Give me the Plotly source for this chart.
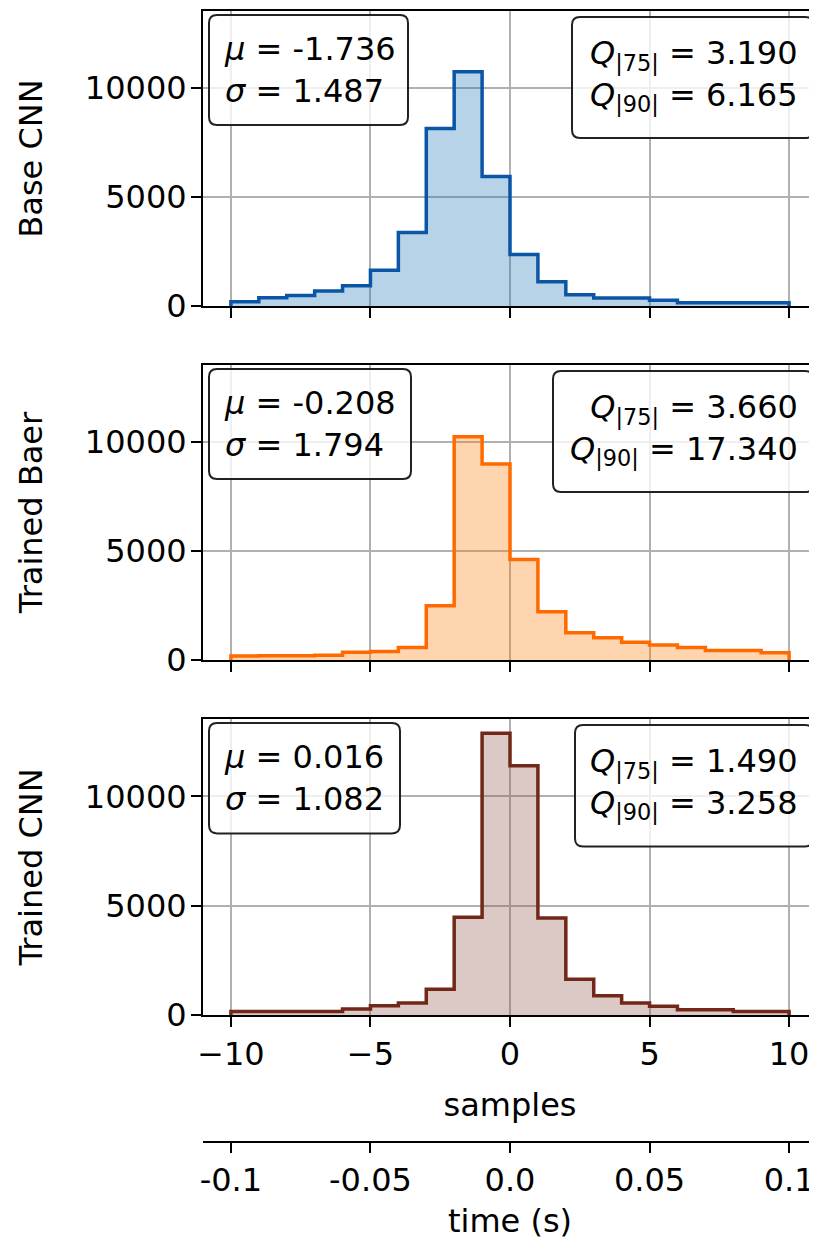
import plotly.graph_objects as go

# ---------------- data ----------------
bin_edges = [-10, -9, -8, -7, -6, -5, -4, -3, -2, -1, 0, 1, 2, 3, 4, 5, 6, 7, 8, 9, 10]
base_cnn = [200, 380, 480, 690, 930, 1640, 3380, 8150, 10750, 5950, 2360, 1110, 520, 370, 370, 260, 150, 150, 150, 150]
trained_baer = [180, 190, 200, 220, 360, 390, 570, 2490, 10250, 9000, 4620, 2220, 1250, 1020, 810, 690, 570, 440, 440, 330]
trained_cnn = [160, 160, 160, 160, 270, 420, 545, 1180, 4470, 12890, 11410, 4440, 1640, 880, 545, 395, 240, 240, 165, 165]

panel_names = ["Base CNN", "Trained Baer", "Trained CNN"]
mu_vals = ["-1.736", "-0.208", "0.016"]
sigma_vals = ["1.487", "1.794", "1.082"]
q75_vals = ["3.190", "3.660", "1.490"]
q90_vals = ["6.165", "17.340", "3.258"]

y_tick_vals = [0, 5000, 10000]
y_tick_text = ["0", "5000", "10000"]
sample_tick_vals = [-10, -5, 0, 5, 10]
sample_tick_text = ["\u221210", "\u22125", "0", "5", "10"]
time_tick_vals = [-0.1, -0.05, 0.0, 0.05, 0.1]
time_tick_text = ["-0.1", "-0.05", "0.0", "0.05", "0.1"]

# ---------------- styles ----------------
line_colors = ["#0b55a6", "#ff6a00", "#722719"]
fill_colors = ["rgba(31,119,180,0.32)", "rgba(255,127,14,0.33)", "rgba(140,86,75,0.32)"]
FONT = "DejaVu Sans"
FS = 32

OFF = 8  # page body margin
W, H = 817 - OFF, 1240 - OFF
L, R, T = 203 - OFF, 0, 11 - OFF
axis_px_bottom = 1142 - OFF
B = H - axis_px_bottom
plot_h = H - T - B
panel_px = [(11 - OFF, 306 - OFF), (365 - OFF, 660 - OFF), (719 - OFF, 1015 - OFF)]


def ydom(top, bottom):
    return [(axis_px_bottom - bottom) / plot_h, (axis_px_bottom - top) / plot_h]


fig = go.Figure()
series = [base_cnn, trained_baer, trained_cnn]
ymax = 13545

for i, counts in enumerate(series):
    xs = [bin_edges[0]] + bin_edges + [bin_edges[-1]]
    ys = [0] + counts + [counts[-1]] + [0]
    fig.add_trace(go.Scatter(
        x=xs, y=ys, mode="lines", line=dict(color=line_colors[i], width=3.5, shape="hv"),
        fill="tozeroy", fillcolor=fill_colors[i], hoverinfo="skip", showlegend=False,
        xaxis="x" if i == 0 else f"x{i+1}", yaxis="y" if i == 0 else f"y{i+1}",
    ))

# trace carrying the time axis
fig.add_trace(go.Scatter(x=[time_tick_vals[0], time_tick_vals[-1]], y=[None, None], mode="lines",
                         xaxis="x4", yaxis="y3", showlegend=False, hoverinfo="skip"))

common_x = dict(range=[-11, 11], tickvals=sample_tick_vals, ticktext=sample_tick_text,
                ticks="outside", ticklen=10, tickwidth=2, tickcolor="black",
                showline=True, linecolor="black", linewidth=2, mirror=True,
                showgrid=True, gridcolor="#b0b0b0", gridwidth=1.5, zeroline=False,
                tickfont=dict(family=FONT, size=FS, color="black"), domain=[0, 1])
common_y = dict(range=[0, ymax], tickvals=y_tick_vals, ticktext=y_tick_text,
                ticks="outside", ticklen=10, tickwidth=2, tickcolor="black",
                showline=True, linecolor="black", linewidth=2, mirror=False,
                showgrid=True, gridcolor="#b0b0b0", gridwidth=1.5, zeroline=False,
                tickfont=dict(family=FONT, size=FS, color="black"), ticklabelstandoff=-2)

layout = dict(width=W, height=H, margin=dict(l=L, r=R, t=T, b=B),
              plot_bgcolor="white", paper_bgcolor="white",
              font=dict(family=FONT, size=FS, color="black"), showlegend=False)

for i in range(3):
    xk = "xaxis" if i == 0 else f"xaxis{i+1}"
    yk = "yaxis" if i == 0 else f"yaxis{i+1}"
    ya = "y" if i == 0 else f"y{i+1}"
    xa = "x" if i == 0 else f"x{i+1}"
    xd = dict(common_x, anchor=ya, showticklabels=(i == 2))
    if i == 2:
        xd["title"] = dict(text="samples", font=dict(family=FONT, size=FS), standoff=21)
    layout[xk] = xd
    layout[yk] = dict(common_y, anchor=xa, domain=ydom(*panel_px[i]),
                      title=dict(text=panel_names[i], font=dict(family=FONT, size=FS), standoff=33))

layout["xaxis4"] = dict(overlaying="x3", anchor="free", position=0, side="bottom",
                        range=[-0.11, 0.11], tickvals=time_tick_vals, ticktext=time_tick_text,
                        ticks="outside", ticklen=10, tickwidth=2, tickcolor="black",
                        showline=True, linecolor="black", linewidth=2, showgrid=False, zeroline=False,
                        tickfont=dict(family=FONT, size=FS, color="black"),
                        title=dict(text="time (s)", font=dict(family=FONT, size=FS), standoff=17))

fig.update_layout(**layout)

# ---------------- annotation boxes ----------------
PW = W - L - R
PH = 295.0


def rounded_path(x0, y0, x1, y1, r=8):
    # pixel offsets from plot-area left and panel top -> domain fractions
    fx = lambda px: px / PW
    fy = lambda py: 1 - py / PH
    rx, ry = r / PW, r / PH
    X0, X1 = fx(x0), fx(x1)
    Y0, Y1 = fy(y0), fy(y1)
    return (f"M {X0+rx},{Y0} L {X1-rx},{Y0} Q {X1},{Y0} {X1},{Y0-ry} "
            f"L {X1},{Y1+ry} Q {X1},{Y1} {X1-rx},{Y1} L {X0+rx},{Y1} "
            f"Q {X0},{Y1} {X0},{Y1+ry} L {X0},{Y0-ry} Q {X0},{Y0} {X0+rx},{Y0} Z")


left_box_right = [408, 411, 400]
right_box_left = [572, 553, 575]
shapes = []
annotations = []
for i in range(3):
    xa = "x" if i == 0 else f"x{i+1}"
    ya = "y" if i == 0 else f"y{i+1}"
    shapes.append(dict(type="path", xref=f"{xa} domain", yref=f"{ya} domain",
                       path=rounded_path(209 - 203, 4, left_box_right[i] - 203, 114),
                       line=dict(color="#222222", width=2), fillcolor="rgba(255,255,255,0.8)",
                       layer="above"))
    shapes.append(dict(type="path", xref=f"{xa} domain", yref=f"{ya} domain",
                       path=rounded_path(right_box_left[i] - 203, 6, 813 - 203, 127),
                       line=dict(color="#222222", width=2), fillcolor="rgba(255,255,255,0.8)",
                       layer="above"))
    annotations.append(dict(xref=f"{xa} domain", yref=f"{ya} domain",
                            x=(222 - 203) / PW, y=1 - 59 / PH, xanchor="left", yanchor="middle",
                            align="left", showarrow=False,
                            text=f"<i>μ</i> = {mu_vals[i]}<br><i>σ</i> = {sigma_vals[i]}",
                            font=dict(family=FONT, size=FS, color="black")))
    annotations.append(dict(xref=f"{xa} domain", yref=f"{ya} domain",
                            x=(800 - 203) / PW, y=1 - 64 / PH, xanchor="right", yanchor="middle",
                            align="right", showarrow=False,
                            text=(f"<i>Q</i><sub>|75|</sub> = {q75_vals[i]}<br>"
                                  f"<i>Q</i><sub>|90|</sub> = {q90_vals[i]}"),
                            font=dict(family=FONT, size=FS, color="black")))

fig.update_layout(shapes=shapes, annotations=annotations)
fig.write_html("out.html")
